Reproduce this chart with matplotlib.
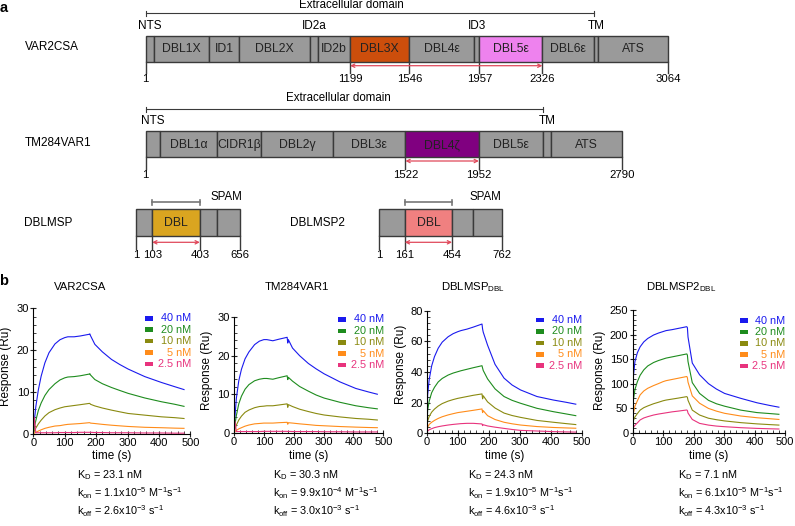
"""
Domain maps of VAR2CSA / TM284VAR1 / DBLMSP / DBLMSP2 (a) and SPR binding curves (b).
"""

import matplotlib
matplotlib.use("Agg")
import matplotlib.pyplot as plt
from matplotlib.patches import Rectangle
from matplotlib.transforms import Affine2D
from matplotlib.ticker import MultipleLocator, AutoMinorLocator

plt.rcParams["font.family"] = ["Liberation Sans", "DejaVu Sans"]
plt.rcParams["mathtext.fontset"] = "custom"
plt.rcParams["mathtext.rm"] = "Liberation Sans"
plt.rcParams["mathtext.default"] = "regular"

# ── colours ────────────────────────────────────────────────────────────────
GRAY = "#9a9a9a"
EDGE = "#3a3a3a"
RED = "#e0485a"
C_DBL3X = "#cc4e0c"
C_DBL5E = "#ee82ee"
C_DBL4Z = "#800080"
C_MSP = "#daa520"
C_MSP2 = "#f08080"

# ── panel a: domain boundaries (amino acid positions) ─────────────────────
VAR2CSA_BOUNDS = [1, 50, 372, 548, 964, 1011, 1199, 1546, 1927, 1957, 2326, 2628, 2651, 3064]
VAR2CSA_NAMES = ["", "DBL1X", "ID1", "DBL2X", "", "ID2b", "DBL3X", "DBL4ε", "", "DBL5ε", "DBL6ε", "", "ATS"]
VAR2CSA_COLORS = [GRAY] * 6 + [C_DBL3X, GRAY, GRAY, C_DBL5E, GRAY, GRAY, GRAY]
VAR2CSA_TICKS = [1, 1199, 1546, 1957, 2326, 3064]
VAR2CSA_ARROW = (1199, 2326)
VAR2CSA_EXTRA = (1, 2628)
VAR2CSA_TOP = [("NTS", 25), ("ID2a", 987), ("ID3", 1942), ("TM", 2640)]

TM284_BOUNDS = [1, 83, 420, 674, 1099, 1522, 1952, 2329, 2376, 2790]
TM284_NAMES = ["", "DBL1α", "CIDR1β", "DBL2γ", "DBL3ε", "DBL4ζ", "DBL5ε", "", "ATS"]
TM284_COLORS = [GRAY] * 5 + [C_DBL4Z, GRAY, GRAY, GRAY]
TM284_TICKS = [1, 1522, 1952, 2790]
TM284_ARROW = (1522, 1952)
TM284_EXTRA = (1, 2329)
TM284_TOP = [("NTS", 42), ("TM", 2352)]

MSP_BOUNDS = [1, 103, 403, 513, 656]
MSP_NAMES = ["", "DBL", "", ""]
MSP_COLORS = [GRAY, C_MSP, GRAY, GRAY]
MSP_TICKS = [1, 103, 403, 656]
MSP_ARROW = (103, 403)
MSP_SPAM = (103, 403)

MSP2_BOUNDS = [1, 161, 454, 586, 762]
MSP2_NAMES = ["", "DBL", "", ""]
MSP2_COLORS = [GRAY, C_MSP2, GRAY, GRAY]
MSP2_TICKS = [1, 161, 454, 762]
MSP2_ARROW = (161, 454)
MSP2_SPAM = (161, 454)

# ── panel b: SPR sensorgrams ───────────────────────────────────────────────
TIME = [0, 3, 8, 16, 25, 37, 50, 69, 85, 100, 110, 130, 150, 178, 180, 182,
        196, 220, 249, 275, 302, 355, 408, 450, 480]
CONC_LABELS = ["40 nM", "20 nM", "10 nM", "5 nM", "2.5 nM"]
CONC_COLORS = ["#1a1aee", "#1e8c1e", "#8a8a10", "#ff8c1a", "#e8337d"]

VAR2CSA_40 = [0, 3, 6.5, 10.5, 13.8, 17, 19.4, 21.5, 22.5, 23.0, 23.2, 23.2, 23.4, 23.8, 23.9, 23.5,
              21.4, 19.6, 17.8, 16.6, 15.5, 13.7, 12.3, 11.3, 10.6]
VAR2CSA_20 = [0, 1.5, 3.2, 5.6, 7.4, 9.2, 10.6, 12.0, 12.9, 13.4, 13.6, 13.7, 13.9, 14.3, 14.4, 14.1,
              13.0, 12.0, 11.1, 10.4, 9.7, 8.6, 7.7, 7.1, 6.6]
VAR2CSA_10 = [0, 0.7, 1.4, 2.4, 3.3, 4.3, 5.1, 5.8, 6.2, 6.5, 6.6, 6.8, 7.0, 7.3, 7.3, 7.1,
              6.7, 6.2, 5.7, 5.3, 4.9, 4.5, 4.1, 3.9, 3.7]
VAR2CSA_5 = [0, 0.2, 0.4, 0.7, 1.0, 1.35, 1.6, 1.9, 2.0, 2.2, 2.3, 2.4, 2.5, 2.7, 2.7, 2.6,
             2.5, 2.3, 2.1, 1.95, 1.8, 1.6, 1.5, 1.4, 1.35]
VAR2CSA_2 = [0, 4.0, 0.3, 0.3, 0.3, 0.3, 0.3, 0.3, 0.35, 0.35, 0.35, 0.35, 0.4, 0.4, 0.4, 0.4,
             0.35, 0.35, 0.3, 0.3, 0.3, 0.25, 0.25, 0.2, 0.2]

TM284_40 = [0, 4, 9, 13.5, 16.5, 19.2, 21.0, 22.9, 23.8, 24.2, 24.2, 23.9, 24.3, 24.8, 23.3, 24.2,
            22.0, 20.0, 18.0, 16.6, 15.3, 13.2, 11.5, 10.6, 10.0]
TM284_20 = [0, 2, 4.5, 7.5, 9.5, 11.3, 12.5, 13.5, 13.9, 14.1, 14.1, 13.9, 14.3, 14.8, 13.8, 14.4,
            13.4, 12.0, 10.8, 9.8, 9.0, 7.9, 7.0, 6.5, 6.2]
TM284_10 = [0, 0.9, 2.0, 3.3, 4.3, 5.3, 5.9, 6.5, 6.8, 6.9, 7.0, 7.0, 7.2, 7.5, 6.6, 7.3,
            6.8, 6.1, 5.5, 5.0, 4.6, 4.1, 3.7, 3.5, 3.3]
TM284_5 = [0, 0.3, 0.6, 1.0, 1.3, 1.7, 2.0, 2.3, 2.4, 2.5, 2.5, 2.5, 2.6, 2.7, 2.2, 2.6,
           2.5, 2.3, 2.1, 1.9, 1.8, 1.6, 1.45, 1.35, 1.3]
TM284_2 = [0, 3.0, 0.3, 0.3, 0.3, 0.3, 0.3, 0.3, 0.3, 0.35, 0.35, 0.35, 0.35, 0.35, 0.3, 0.35,
           0.3, 0.3, 0.3, 0.3, 0.25, 0.25, 0.2, 0.2, 0.2]

MSP_40 = [0, 25, 35, 44, 50, 55.5, 59.5, 63, 65, 66.3, 67, 68, 69.3, 71.3, 68, 66,
          57.5, 45, 36, 31.5, 28.3, 24, 21.7, 20.2, 19]
MSP_20 = [0, 15, 21, 26.5, 30, 33.5, 35.8, 38, 39.3, 40.2, 40.8, 41.8, 42.8, 44.1, 42.5, 41,
          35.5, 29, 24, 21.5, 19.6, 16.3, 14.1, 12.6, 11.5]
MSP_10 = [0, 8, 11, 13.8, 15.8, 17.8, 19.4, 21, 22, 22.8, 23.2, 24, 24.8, 25.7, 22.5, 24.5,
          20.5, 16.5, 13.2, 11.6, 10.4, 8.4, 7.2, 6.3, 5.7]
MSP_5 = [0, 4, 5.8, 7.2, 8.4, 9.7, 10.8, 12, 12.8, 13.5, 13.8, 14.4, 15.0, 15.9, 13.5, 14.8,
         11.5, 9.0, 7.2, 6.2, 5.4, 4.4, 3.8, 3.5, 3.3]
MSP_2 = [0, 1.5, 2.3, 3.0, 3.7, 4.3, 4.8, 5.4, 5.8, 6.1, 6.3, 6.5, 6.5, 6.1, 5.0, 5.6,
         4.8, 4.0, 3.2, 2.5, 1.9, 1.5, 1.1, 0.9, 0.8]

MSP2_40 = [0, 115, 145, 163, 175, 185, 192, 199, 203, 206, 208, 210, 212.5, 216, 214, 195,
           142, 118, 100, 89, 80, 70, 61, 55.5, 52]
MSP2_20 = [0, 67, 88, 104, 117, 128, 136, 143, 147, 150, 152, 154.5, 157, 160.5, 158, 145,
           102, 80, 66, 59, 54, 46, 41, 39, 37.5]
MSP2_10 = [0, 25, 32, 39, 46, 51, 54.5, 59, 62, 65, 66.5, 68.5, 70.5, 73.5, 72, 66,
           46, 36, 29.5, 26.5, 24, 20.5, 18, 16.5, 15.5]
MSP2_5 = [0, 40, 54, 65, 77, 85, 90.5, 96, 100, 104, 106, 108.5, 111, 114.5, 112, 103,
          75, 60, 49.5, 44, 39.5, 34, 30.5, 28.5, 27]
MSP2_2 = [0, 11, 15, 20, 26, 30, 32.7, 36, 38, 39.5, 40.5, 42.5, 44, 46.3, 45, 40,
          27, 19, 15.5, 13.5, 12.2, 10.2, 8.8, 8, 7.5]

PANEL_TITLES = ["VAR2CSA", "TM284VAR1", "DBLMSP$_{DBL}$", "DBLMSP2$_{DBL}$"]
PANEL_SERIES = [
    [VAR2CSA_40, VAR2CSA_20, VAR2CSA_10, VAR2CSA_5, VAR2CSA_2],
    [TM284_40, TM284_20, TM284_10, TM284_5, TM284_2],
    [MSP_40, MSP_20, MSP_10, MSP_5, MSP_2],
    [MSP2_40, MSP2_20, MSP2_10, MSP2_5, MSP2_2],
]
PANEL_YMAX = [30, 30, 80, 250]
PANEL_YSTEP = [10, 10, 20, 50]
KD = ["23.1", "30.3", "24.3", "7.1"]
KON = [("1.1", "-5"), ("9.9", "-4"), ("1.9", "-5"), ("6.1", "-5")]
KOFF = ["2.6", "3.0", "4.6", "4.3"]

# ── figure in pixel units ──────────────────────────────────────────────────
W, H = 795, 526
fig = plt.figure(figsize=(W / 100, H / 100), dpi=100)
PIX = Affine2D().scale(1 / W, -1 / H).translate(0, 1) + fig.transFigure


def add_axes_px(l, t, r, b):
    return fig.add_axes([l / W, 1 - b / H, (r - l) / W, (b - t) / H])


def protein_axes(l, r, t, b, aa_end):
    ax = add_axes_px(l, t, r, b)
    ax.set_xlim(1, aa_end)
    ax.set_ylim(b, t)
    ax.axis("off")
    return ax


def draw_protein(ax, bounds, names, colors, bar, ticks, tick_end, num_y, arrow, arrow_y):
    top, bot = bar
    for s, e, name, col in zip(bounds[:-1], bounds[1:], names, colors):
        ax.add_patch(Rectangle((s, top), e - s, bot - top, facecolor=col,
                               edgecolor=EDGE, lw=1.0, clip_on=False))
        if name:
            ax.text((s + e) / 2, (top + bot) / 2 + 0.5, name, ha="center", va="center",
                    fontsize=8.8, color="#222222")
    for t in ticks:
        ax.plot([t, t], [bot, tick_end], color=EDGE, lw=1.0, clip_on=False)
        ax.text(t, num_y, str(t), ha="center", va="center", fontsize=8.2)
    ax.annotate("", xy=(arrow[1], arrow_y), xytext=(arrow[0], arrow_y),
                arrowprops=dict(arrowstyle="<->", color=RED, lw=0.9, shrinkA=0,
                                shrinkB=0, mutation_scale=6),
                annotation_clip=False)


def draw_bracket(ax, span, y, color, lw):
    ax.plot(span, [y, y], color=color, lw=lw, clip_on=False)
    for x in span:
        ax.plot([x, x], [y - 2.5, y + 2.5], color=color, lw=lw, clip_on=False)


fig.text(4, 8, "a", transform=PIX, fontsize=10.5, fontweight="bold", ha="center", va="center")
fig.text(4, 281, "b", transform=PIX, fontsize=10.5, fontweight="bold", ha="center", va="center")

# VAR2CSA
ax = protein_axes(145.7, 668.3, 0, 88, 3064)
fig.text(25, 47, "VAR2CSA", transform=PIX, fontsize=8.5, va="center")
draw_bracket(ax, VAR2CSA_EXTRA, 13, EDGE, 0.8)
ax.text(1207, 5.5, "Extracellular domain", ha="center", va="center", fontsize=8.3)
for lab, pos in VAR2CSA_TOP:
    ax.text(pos, 26, lab, ha="center", va="center", fontsize=8.5)
draw_protein(ax, VAR2CSA_BOUNDS, VAR2CSA_NAMES, VAR2CSA_COLORS, (36, 61.7),
             VAR2CSA_TICKS, 73, 79.5, VAR2CSA_ARROW, 65.7)

# TM284VAR1
ax = protein_axes(145.7, 622, 88, 185, 2790)
fig.text(25, 143, "TM284VAR1", transform=PIX, fontsize=8.5, va="center")
draw_bracket(ax, TM284_EXTRA, 109, EDGE, 0.8)
ax.text(1128, 98, "Extracellular domain", ha="center", va="center", fontsize=8.3)
for lab, pos in TM284_TOP:
    ax.text(pos, 121, lab, ha="center", va="center", fontsize=8.5)
draw_protein(ax, TM284_BOUNDS, TM284_NAMES, TM284_COLORS, (131.3, 157.3),
             TM284_TICKS, 169, 175.5, TM284_ARROW, 161)

# DBLMSP
ax = protein_axes(136, 240, 190, 262, 656)
fig.text(24, 223, "DBLMSP", transform=PIX, fontsize=8.5, va="center")
draw_bracket(ax, MSP_SPAM, 202.3, "#777777", 1.2)
ax.text(568, 197.5, "SPAM", ha="center", va="center", fontsize=8.3)
draw_protein(ax, MSP_BOUNDS, MSP_NAMES, MSP_COLORS, (209, 236.3),
             MSP_TICKS, 249, 255.5, MSP_ARROW, 242.3)

# DBLMSP2
ax = protein_axes(379, 501.7, 190, 262, 762)
fig.text(290, 223, "DBLMSP2", transform=PIX, fontsize=8.5, va="center")
draw_bracket(ax, MSP2_SPAM, 202.3, "#777777", 1.2)
ax.text(659, 197.5, "SPAM", ha="center", va="center", fontsize=8.3)
draw_protein(ax, MSP2_BOUNDS, MSP2_NAMES, MSP2_COLORS, (209, 236.3),
             MSP2_TICKS, 249, 255.5, MSP2_ARROW, 242.3)

# ── panel b ────────────────────────────────────────────────────────────────
AX_BOX = [(33.3, 308.3, 190.3, 434), (234, 317.3, 383.3, 432.7),
          (426.7, 310.7, 582, 433.3), (632.5, 310, 785, 432.7)]
TITLE_X = [80, 297, 473, 681]
YLAB_RIGHT = [11.7, 213.3, 407.3, 605.7]
YLAB_FRAC = [0.54, 0.54, 0.56, 0.51]
LEG_MARK_X = [145, 338.3, 535.7, 740]
LEG_TOP = [318.3, 319.5, 320, 320.5]
TEXT_LEFT = [77, 272.7, 467.7, 677.7]

for i, (l, t, r, b) in enumerate(AX_BOX):
    ax = add_axes_px(l, t, r, b)
    for series, col in zip(PANEL_SERIES[i], CONC_COLORS):
        ax.plot(TIME, series, color=col, lw=0.8)
    ax.set_xlim(0, 500)
    ax.set_ylim(0, PANEL_YMAX[i])
    ax.xaxis.set_major_locator(MultipleLocator(100))
    ax.yaxis.set_major_locator(MultipleLocator(PANEL_YSTEP[i]))
    ax.xaxis.set_minor_locator(AutoMinorLocator(5))
    ax.yaxis.set_minor_locator(AutoMinorLocator(5))
    ax.tick_params(which="major", direction="inout", length=4, width=0.8,
                   labelsize=8, pad=1, color="#222222")
    ax.tick_params(which="minor", direction="in", length=2, width=0.6, color="#222222")
    for side in ("top", "right"):
        ax.spines[side].set_visible(False)
    for side in ("left", "bottom"):
        ax.spines[side].set_linewidth(0.8)

    ax.set_xlabel("time (s)", fontsize=8.5)
    ax.xaxis.set_label_coords(0.5, (b - 450.5) / (b - t))
    ax.set_ylabel("Response (Ru)", fontsize=8.5)
    ax.yaxis.set_label_coords((YLAB_RIGHT[i] - l) / (r - l), YLAB_FRAC[i])

    fig.text(TITLE_X[i], 287, PANEL_TITLES[i], transform=PIX, ha="center",
             va="center", fontsize=8.2)

    # legend: coloured bar + right aligned label
    for k, (lab, col) in enumerate(zip(CONC_LABELS, CONC_COLORS)):
        y = LEG_TOP[i] + k * 11.4
        fig.add_artist(Rectangle((LEG_MARK_X[i], y - 2.3), 8, 4.6, transform=PIX,
                                 facecolor=col, edgecolor="none"))
        fig.text(r + 0.5, y, lab, transform=PIX, ha="right", va="center",
                 fontsize=7.8, color=col)

    x0 = TEXT_LEFT[i]
    fig.text(x0, 478.5, "K$_D$ = %s nM" % KD[i], transform=PIX, va="baseline", fontsize=7.8)
    mant, ex = KON[i]
    fig.text(x0, 497, "k$_{on}$ = %sx10$^{%s}$ M$^{-1}$s$^{-1}$" % (mant, ex),
             transform=PIX, va="baseline", fontsize=7.8)
    fig.text(x0, 515.5, "k$_{off}$ = %sx10$^{-3}$ s$^{-1}$" % KOFF[i],
             transform=PIX, va="baseline", fontsize=7.8)

fig.savefig("out.png", dpi=100)
